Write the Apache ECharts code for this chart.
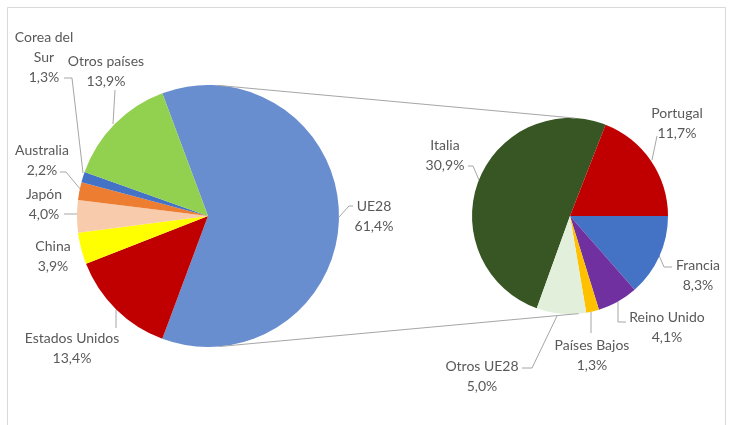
<!DOCTYPE html>
<html>
<head>
<meta charset="utf-8">
<script src="https://cdn.jsdelivr.net/npm/echarts@6/dist/echarts.min.js"></script>
<style>
html,body{margin:0;padding:0;background:#fff;}
#chart{width:734px;height:425px;}
</style>
</head>
<body>
<div id="chart"></div>
<script>
// ---- Data ----
const mainCategories = ['UE28', 'Estados Unidos', 'China', 'Japón', 'Australia', 'Corea del Sur', 'Otros países'];
const mainValues = [61.4, 13.4, 3.9, 4.0, 2.2, 1.3, 13.9];
const subCategories = ['Italia', 'Portugal', 'Francia', 'Reino Unido', 'Países Bajos', 'Otros UE28'];
const subValues = [30.9, 11.7, 8.3, 4.1, 1.3, 5.0];

// ---- Styles / layout ----
const mainColors = ['#698ED0', '#C00000', '#FFFF00', '#F8CBAD', '#ED7D31', '#4472C4', '#92D050'];
const subColors = ['#375623', '#C00000', '#4472C4', '#7030A0', '#FFC000', '#E2EFDA'];
const L = {cx: 208, cy: 216, r: 131};
const R = {cx: 570, cy: 216, r: 98};
const labelFont = 'Lato, "Liberation Sans", sans-serif';
const textColor = '#595959';
const lineColor = '#A6A6A6';

const mainLabelLayout = {
  'UE28':          {x: 374, y: 216, line: [[339,217],[349,206],[353,206]]},
  'Estados Unidos':{x: 72,  y: 348, line: [[116,310],[116,328]]},
  'China':         {x: 53,  y: 256, line: null},
  'Japón':         {x: 44,  y: 204, line: [[78,214],[64,214]]},
  'Australia':     {x: 42,  y: 160, line: [[81,190],[66,172],[60,172]]},
  'Corea del Sur': {x: 44,  y: 57,  line: [[83,173],[72,78],[64,78]]},
  'Otros países':  {x: 106, y: 71,  line: [[113,124],[115,90]]}
};
const subLabelLayout = {
  'Italia':       {x: 445, y: 155, line: [[479,180],[473,166],[468,166]]},
  'Portugal':     {x: 677, y: 123, line: [[652,160],[657,136]]},
  'Francia':      {x: 698, y: 275, line: [[658,253],[664,267],[672,267]]},
  'Reino Unido':  {x: 667, y: 327, line: [[618,302],[618,322],[626,322]]},
  'Países Bajos': {x: 592, y: 355, line: [[591,312],[591,333]]},
  'Otros UE28':   {x: 482, y: 376, line: [[557,316],[532,368],[522,368]]}
};

function fmtPct(v) { return v.toFixed(1).replace('.', ',') + '%'; }
function labelName(n) { return n === 'Corea del Sur' ? 'Corea del\nSur' : n; }

function makeLayout(map, cats) {
  return function (params) {
    const p = map[cats[params.dataIndex]];
    if (!p) return {};
    const out = {x: p.x, y: p.y, align: 'center', verticalAlign: 'middle'};
    if (p.line) out.labelLinePoints = p.line;
    return out;
  };
}

const sum = a => a.reduce((s, v) => s + v, 0);
// Main pie: the UE28 slice is centred on the right-hand side
const mainStart = 360 * mainValues[0] / sum(mainValues) / 2;
// Sub pie: Portugal/Francia boundary lies on the horizontal
const subStart = 360 * (subValues[0] + subValues[1]) / sum(subValues);

function polar(c, deg) {
  const a = deg * Math.PI / 180;
  return [c.cx + c.r * Math.cos(a), c.cy - c.r * Math.sin(a)];
}
const topL = polar(L, 86), topR = polar(R, 87);
const botL = polar(L, -85), botR = polar(R, -85);

const commonLabel = {
  show: true,
  color: textColor,
  fontFamily: labelFont,
  fontSize: 14,
  lineHeight: 20,
  align: 'center'
};

const chart = echarts.init(document.getElementById('chart'), null, {renderer: 'canvas'});
chart.setOption({
  backgroundColor: '#fff',
  animation: false,
  graphic: [
    {type: 'rect', shape: {x: 7.5, y: 7.5, width: 718, height: 430}, style: {fill: 'none', stroke: '#D9D9D9', lineWidth: 1}, z: 0},
    {type: 'line', shape: {x1: topL[0], y1: topL[1], x2: topR[0], y2: topR[1]}, style: {stroke: lineColor, lineWidth: 1}, z: 10},
    {type: 'line', shape: {x1: botL[0], y1: botL[1], x2: botR[0], y2: botR[1]}, style: {stroke: lineColor, lineWidth: 1}, z: 10}
  ],
  series: [
    {
      type: 'pie',
      center: [L.cx, L.cy],
      radius: [0, L.r],
      startAngle: mainStart,
      clockwise: true,
      avoidLabelOverlap: false,
      itemStyle: {borderWidth: 0},
      label: Object.assign({}, commonLabel, {
        formatter: p => labelName(p.name) + '\n' + fmtPct(p.value)
      }),
      labelLine: {show: true, lineStyle: {color: lineColor, width: 1}},
      labelLayout: makeLayout(mainLabelLayout, mainCategories),
      emphasis: {disabled: true},
      data: mainCategories.map((n, i) => ({
        name: n, value: mainValues[i],
        itemStyle: {color: mainColors[i]},
        labelLine: {show: mainLabelLayout[n].line !== null}
      }))
    },
    {
      type: 'pie',
      center: [R.cx, R.cy],
      radius: [0, R.r],
      startAngle: subStart,
      clockwise: true,
      avoidLabelOverlap: false,
      itemStyle: {borderWidth: 0},
      label: Object.assign({}, commonLabel, {
        formatter: p => p.name + '\n' + fmtPct(p.value)
      }),
      labelLine: {show: true, lineStyle: {color: lineColor, width: 1}},
      labelLayout: makeLayout(subLabelLayout, subCategories),
      emphasis: {disabled: true},
      data: subCategories.map((n, i) => ({
        name: n, value: subValues[i],
        itemStyle: {color: subColors[i]}
      }))
    }
  ]
});
</script>
</body>
</html>
